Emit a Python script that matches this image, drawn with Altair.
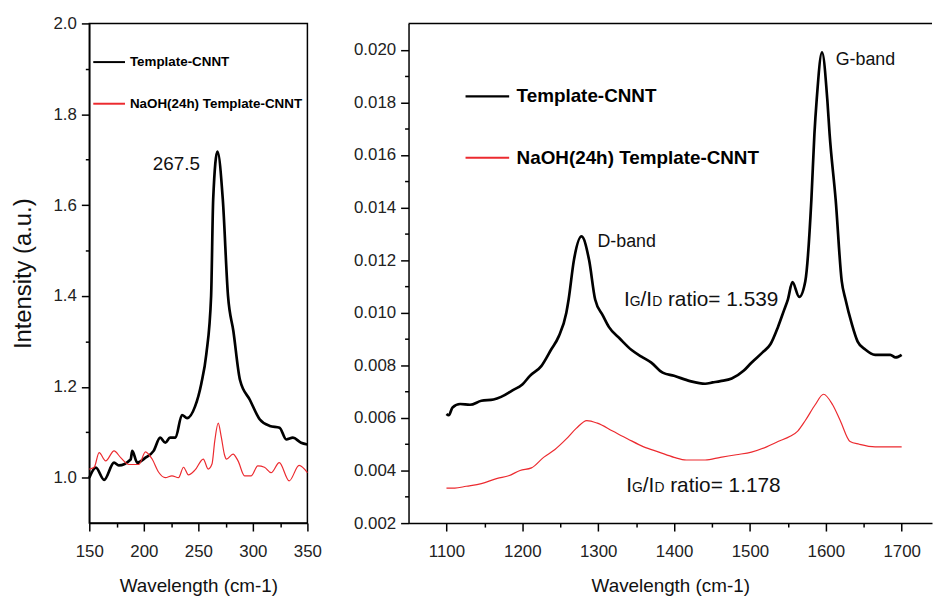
import altair as alt
import pandas as pd

FONT = "Liberation Sans"
BLACK = "#000000"
RED = "#ec2a2f"

series_names = ["Template-CNNT", "NaOH(24h) Template-CNNT"]

# ---------------- left panel (RBM region) ----------------
left_black_x = [150, 156, 163.6, 172.7, 177, 187.9, 189.4, 194, 201.5, 209, 215, 219.7, 224, 229, 235,
                239.7, 247, 252.7, 257.3, 261.7, 263.6, 267.5, 272.4, 277.2, 282.1, 288.2, 297.3, 306.4,
                315.5, 324.5, 330.6, 336.7, 344.2, 350]
left_black_y = [1.0, 1.022, 0.995, 1.033, 1.027, 1.04, 1.059, 1.033, 1.044, 1.059, 1.088, 1.077, 1.088, 1.088,
                1.138, 1.131, 1.157, 1.207, 1.272, 1.40, 1.613, 1.718, 1.613, 1.40, 1.323, 1.215, 1.171, 1.128,
                1.114, 1.11, 1.084, 1.088, 1.077, 1.073]

left_red_x = [150, 154.5, 159, 165, 172.7, 178.8, 186.4, 195.5, 201.5, 207.6, 213.6, 219.7, 225.8, 231.8,
              236.4, 240.9, 247, 254.5, 259, 262.5, 265, 268.2, 271, 274, 275.8, 281.8, 286.4, 292.4, 298.5,
              304.5, 310.6, 316.7, 324.2, 333.3, 342.4, 350]
left_red_y = [1.019, 1.023, 1.055, 1.037, 1.059, 1.044, 1.029, 1.029, 1.057, 1.041, 1.012, 1.0, 1.004, 1.0,
              1.023, 1.006, 1.017, 1.041, 1.019, 1.03, 1.08, 1.12, 1.09, 1.05, 1.041, 1.052, 1.037, 1.004,
              1.004, 1.026, 1.023, 1.011, 1.033, 0.993, 1.027, 1.011]

# ---------------- right panel (D / G bands) ----------------
right_black_x = [1100, 1103, 1108, 1118, 1131, 1146, 1162, 1172, 1187, 1200, 1210, 1225, 1238, 1248, 1258,
                 1261, 1268, 1278, 1288, 1296, 1306, 1314, 1329, 1344, 1357, 1370, 1385, 1400, 1421, 1441,
                 1451, 1461, 1476, 1492, 1502, 1517, 1527, 1537, 1545, 1550, 1556, 1565, 1573, 1581, 1585,
                 1588, 1595, 1602, 1605, 1613, 1621, 1626, 1634, 1642, 1652, 1665, 1675, 1685, 1692, 1700]
right_black_y = [0.00615, 0.0061, 0.0064, 0.00653, 0.0065, 0.00665, 0.0067, 0.0068, 0.00705, 0.00727, 0.0076,
                 0.00797, 0.0086, 0.0091, 0.0100, 0.0105, 0.0120, 0.0129, 0.0120, 0.0105, 0.0099, 0.00946,
                 0.0090, 0.00858, 0.00833, 0.0081, 0.00772, 0.0076, 0.0074, 0.0073, 0.00735, 0.0074, 0.0075,
                 0.0078, 0.0081, 0.0085, 0.0088, 0.00946, 0.0101, 0.0105, 0.01116, 0.0106, 0.0112, 0.0143,
                 0.0168, 0.0181, 0.0199, 0.0181, 0.0168, 0.0143, 0.0112, 0.0105, 0.0096, 0.0089, 0.0086,
                 0.0084, 0.0084, 0.0084, 0.0083, 0.0084]

right_red_x = [1100, 1111, 1126, 1146, 1167, 1182, 1197, 1212, 1228, 1243, 1258, 1271, 1285, 1299, 1319, 1339,
               1360, 1380, 1400, 1416, 1441, 1461, 1482, 1502, 1522, 1537, 1553, 1563, 1573, 1586, 1597, 1609,
               1619, 1632, 1644, 1665, 1685, 1700]
right_red_y = [0.00333, 0.00333, 0.0034, 0.0035, 0.0037, 0.0038, 0.0040, 0.0041, 0.0045, 0.0048, 0.0052,
               0.0056, 0.0059, 0.0058, 0.0055, 0.0052, 0.0049, 0.0047, 0.0045, 0.0044, 0.0044, 0.0045, 0.0046,
               0.0047, 0.0049, 0.0051, 0.0053, 0.0055, 0.0059, 0.0065, 0.0069, 0.0065, 0.0059, 0.0051, 0.0050,
               0.0049, 0.0049, 0.0049]

# annotations
left_note_text = ["267.5"]
left_note_x = [251.5]
left_note_y = [1.678]

band_text = ["D-band", "G-band"]
band_x = [1299, 1613]
band_y = [0.0125, 0.01943]

ratio_text = ["ratio= 1.539", "ratio= 1.178"]
ratio_x = [1334, 1337]
ratio_y = [0.01025, 0.0032]


def series_df(xb, yb, xr, yr):
    return pd.DataFrame({
        "x": list(xb) + list(xr),
        "y": list(yb) + list(yr),
        "series": [series_names[0]] * len(xb) + [series_names[1]] * len(xr),
    })


left_df = series_df(left_black_x, left_black_y, left_red_x, left_red_y)
right_df = series_df(right_black_x, right_black_y, right_red_x, right_red_y)

# ---------- axes ----------
left_x_axis = alt.Axis(
    title="Wavelength (cm-1)",
    values=[150, 175, 200, 225, 250, 275, 300, 325, 350],
    labelExpr="datum.value % 50 === 0 ? datum.label : ''",
    format="d", labelFlush=False,
    tickSize={"condition": {"test": "datum.value % 50 === 0", "value": 8}, "value": 4},
    labelPadding=13, titlePadding=17,
)
left_y_axis = alt.Axis(
    title="Intensity (a.u.)",
    values=[1.0, 1.1, 1.2, 1.3, 1.4, 1.5, 1.6, 1.7, 1.8, 1.9, 2.0],
    labelExpr="round(datum.value * 10) % 2 === 0 ? format(datum.value, '.1f') : ''",
    tickSize={"condition": {"test": "round(datum.value * 10) % 2 === 0", "value": 8}, "value": 4},
    labelFlush=False, labelPadding=5, titlePadding=18, titleFontSize=24,
)
right_x_axis = alt.Axis(
    title="Wavelength (cm-1)",
    values=[1100, 1150, 1200, 1250, 1300, 1350, 1400, 1450, 1500, 1550, 1600, 1650, 1700],
    labelExpr="datum.value % 100 === 0 ? datum.label : ''",
    format="d", labelFlush=False,
    tickSize={"condition": {"test": "datum.value % 100 === 0", "value": 8}, "value": 4},
    labelPadding=13, titlePadding=17,
)
right_y_axis = alt.Axis(
    title=None,
    values=[0.002, 0.003, 0.004, 0.005, 0.006, 0.007, 0.008, 0.009, 0.010, 0.011, 0.012, 0.013, 0.014,
            0.015, 0.016, 0.017, 0.018, 0.019, 0.020],
    labelExpr="round(datum.value * 1000) % 2 === 0 ? format(datum.value, '.3f') : ''",
    tickSize={"condition": {"test": "round(datum.value * 1000) % 2 === 0", "value": 8}, "value": 4},
    labelFlush=False, labelPadding=5,
)


def panel(df, xdom, ydom, xaxis, yaxis, legend):
    X = alt.X("x:Q", scale=alt.Scale(domain=xdom, nice=False, zero=False), axis=xaxis)
    Y = alt.Y("y:Q", scale=alt.Scale(domain=ydom, nice=False, zero=False), axis=yaxis)
    C = alt.Color("series:N", scale=alt.Scale(domain=series_names, range=[BLACK, RED]),
                  sort=series_names, legend=legend)
    black = alt.Chart(df).transform_filter(
        alt.datum.series == series_names[0]
    ).mark_line(strokeWidth=2.7, interpolate="monotone").encode(x=X, y=Y, color=C)
    red = alt.Chart(df).transform_filter(
        alt.datum.series == series_names[1]
    ).mark_line(strokeWidth=1.2, interpolate="monotone").encode(x=X, y=Y, color=C)
    return black, red, X, Y


left_legend = alt.Legend(orient="none", legendX=3, legendY=22, title=None, symbolType="stroke",
                         symbolSize=1024, symbolStrokeWidth=2, labelFont=FONT, labelFontSize=13.5,
                         labelFontWeight="bold", labelColor="black", rowPadding=18, labelOffset=4,
                         labelLimit=0, padding=0)
right_legend = alt.Legend(orient="none", legendX=56, legendY=50, title=None, symbolType="stroke",
                          symbolSize=1936, symbolStrokeWidth=2.2, labelFont=FONT, labelFontSize=19,
                          labelFontWeight="bold", labelColor="black", rowPadding=28, labelOffset=6,
                          labelLimit=0, padding=0)

lb, lr, LX, LY = panel(left_df, [150, 350], [0.9, 2.0], left_x_axis, left_y_axis, left_legend)
left_note = alt.Chart(pd.DataFrame({"x": left_note_x, "y": left_note_y, "t": left_note_text})).mark_text(
    align="right", baseline="alphabetic", font=FONT, fontSize=19, color="#111"
).encode(x=LX, y=LY, text="t:N")

left = alt.layer(lb, lr, left_note).properties(
    width=220, height=504, view=alt.ViewBackground(stroke="black", strokeWidth=1.5)
)

rb, rr, RX, RY = panel(right_df, [1050, 1740], [0.002, 0.021], right_x_axis, right_y_axis, right_legend)
band_note = alt.Chart(pd.DataFrame({"x": band_x, "y": band_y, "t": band_text})).mark_text(
    align="left", baseline="alphabetic", font=FONT, fontSize=18, color="#111"
).encode(x=RX, y=RY, text="t:N")

ratio_df = pd.DataFrame({"x": ratio_x, "y": ratio_y, "t": ratio_text})
ratio_layers = []
for piece, size, dx in [("I", 21, 0), ("G", 14, 5.8), ("/I", 21, 16.7), ("D", 14, 28.4)]:
    ratio_layers.append(
        alt.Chart(ratio_df).mark_text(align="left", baseline="alphabetic", font=FONT, fontSize=size,
                                      color="#111", dx=dx, text=piece).encode(x=RX, y=RY)
    )
ratio_layers.append(
    alt.Chart(ratio_df).mark_text(align="left", baseline="alphabetic", font=FONT, fontSize=21,
                                  color="#111", dx=44.3).encode(x=RX, y=RY, text="t:N")
)

top_rule = alt.Chart(pd.DataFrame({"a": [0]})).mark_rule(color="black", strokeWidth=1.5).encode(
    x=alt.value(0), x2=alt.value(528), y=alt.value(0)
)

right = alt.layer(rb, rr, band_note, *ratio_layers, top_rule).properties(
    width=528, height=504, view=alt.ViewBackground(stroke="transparent", strokeWidth=0)
)

chart = alt.hconcat(left, right, spacing=102, bounds="flush").resolve_scale(
    color="independent"
).resolve_legend(color="independent").properties(
    padding={"left": 2, "top": 3, "right": 0, "bottom": 0},
    background="white",
).configure(font=FONT).configure_axis(
    labelFont=FONT, labelFontSize=17, labelColor="#222", labelFontWeight="normal",
    titleFont=FONT, titleFontSize=19, titleFontWeight="normal", titleColor="#111",
    domainColor="black", domainWidth=1.5, tickColor="black", tickWidth=1.5, grid=False,
)

chart.save("out.html", embed_options={"renderer": "svg", "actions": False})
